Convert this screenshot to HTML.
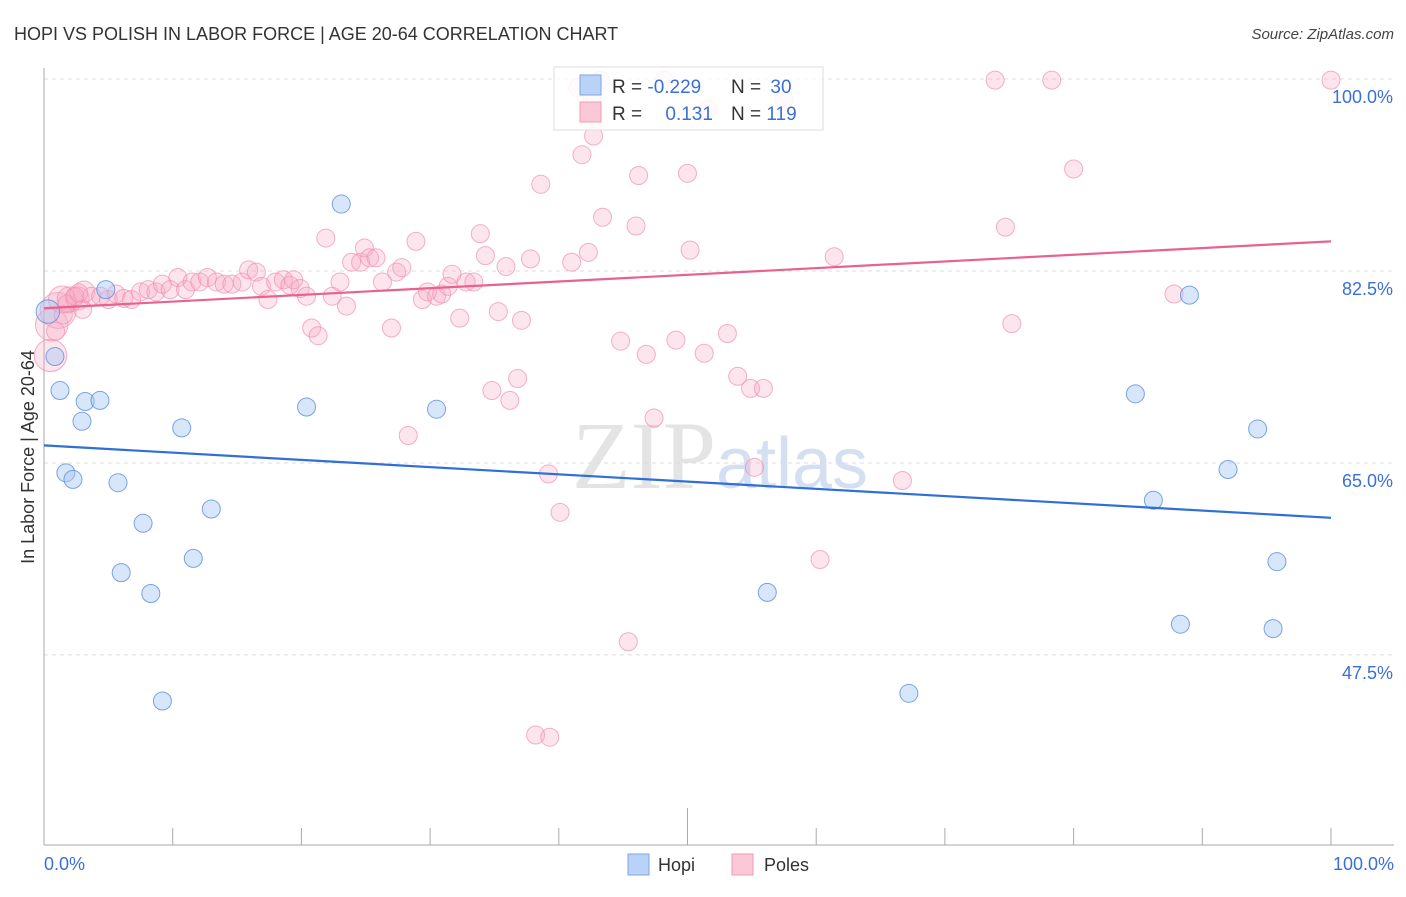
<!DOCTYPE html>
<html><head><meta charset="utf-8"><style>
body{margin:0;background:#fff;width:1406px;height:892px;overflow:hidden;font-family:"Liberation Sans",sans-serif}
</style></head><body>
<svg id="c" width="1406" height="892" xmlns="http://www.w3.org/2000/svg">
<text x="14" y="40" font-size="18" fill="#333">HOPI VS POLISH IN LABOR FORCE | AGE 20-64 CORRELATION CHART</text>
<text x="1394" y="39" font-size="15" fill="#444" font-style="italic" text-anchor="end">Source: ZipAtlas.com</text>
<text x="720" y="488" font-size="96" fill="#e4e4e4" text-anchor="middle" font-family="Liberation Serif,serif">ZIP<tspan fill="#d4e0f2" font-family="Liberation Sans,sans-serif" font-size="72">atlas</tspan></text>
<g id="grid"></g><g id="axes"></g><g id="pts"></g><g id="lines"></g>
<text transform="translate(34,457) rotate(-90)" font-size="18" fill="#333" text-anchor="middle">In Labor Force | Age 20-64</text>
<text x="44" y="870" font-size="18" fill="#3a6fd8">0.0%</text>
<text x="1394" y="870" font-size="18" fill="#3a6fd8" text-anchor="end">100.0%</text>
<g>
<rect x="628" y="854" width="21" height="21" fill="#b8d3f7" stroke="#7ba5e6"/>
<text x="658" y="871" font-size="18" fill="#333">Hopi</text>
<rect x="732" y="854" width="21" height="21" fill="#fbc8d8" stroke="#f09ab5"/>
<text x="764" y="871" font-size="18" fill="#333">Poles</text>
</g>
<g>
<rect x="554" y="67" width="269" height="63" fill="#fff" fill-opacity="0.85" stroke="#ddd"/>
<rect x="580" y="75" width="21" height="20" fill="#b8d3f7" stroke="#7ba5e6"/>
<rect x="580" y="102" width="21" height="20" fill="#fbc8d8" stroke="#f09ab5"/>
<text x="612" y="93" font-size="19" fill="#333">R = <tspan fill="#3a6fd8">-0.229</tspan></text>
<text x="731" y="93" font-size="19" fill="#333">N = <tspan fill="#3a6fd8" dx="4">30</tspan></text>
<text x="612" y="120" font-size="19" fill="#333">R = <tspan fill="#3a6fd8" dx="18">0.131</tspan></text>
<text x="731" y="120" font-size="19" fill="#333">N = <tspan fill="#3a6fd8">119</tspan></text>
</g>
</svg>
<script>
const yTicks=[100,82.5,65,47.5];
const yTickLabels=["100.0%","82.5%","65.0%","47.5%"];
const hopiX=[0.3,0.85,1.24,3.2,4.35,2.95,1.7,2.25,5.75,4.8,7.7,6.0,8.3,10.7,13.0,11.6,9.2,23.1,20.4,30.5,56.2,67.2,84.8,86.2,88.3,89.0,92.0,94.3,95.8,95.5];
const hopiY=[78.8,74.7,71.6,70.6,70.7,68.8,64.1,63.5,63.2,80.8,59.5,55.0,53.1,68.2,60.8,56.3,43.3,88.6,70.1,69.9,53.2,44.0,71.3,61.6,50.3,80.3,64.4,68.1,56.0,49.9];
const polesX=[0.5,0.6,1.1,1.4,2.0,2.6,3.1,3.7,4.4,5.0,5.6,6.2,6.8,7.5,8.1,8.7,9.2,9.8,10.4,11.0,11.5,12.1,12.7,13.4,14.0,14.6,15.4,15.9,16.5,16.9,17.4,18.0,18.6,19.1,19.4,19.9,20.4,20.8,21.3,21.9,22.4,23.0,23.5,23.9,24.6,24.9,25.3,25.8,26.3,27.0,27.4,27.8,28.3,28.9,29.4,29.8,30.5,30.9,31.4,31.7,32.3,32.8,33.4,33.9,34.3,34.8,35.3,35.9,36.2,36.8,37.1,37.8,38.6,39.2,40.1,41.0,41.8,42.3,42.7,43.4,44.8,45.4,46.0,46.2,46.8,47.4,48.2,49.1,50.0,50.2,51.3,51.6,53.1,53.9,54.9,55.2,55.9,60.3,61.4,66.7,73.9,74.7,75.2,78.3,80.0,87.8,100,38.2,39.3,41.5,43.2,42.6,57.5,1.8,2.4,3.0,0.9,1.5,2.7];
const polesY=[74.8,77.6,78.9,79.9,79.9,80.0,80.6,80.2,80.2,79.9,80.4,80.0,79.9,80.6,80.8,80.6,81.3,80.8,81.9,80.8,81.5,81.5,81.9,81.5,81.3,81.3,81.5,82.6,82.4,81.1,79.9,81.5,81.7,81.2,81.7,80.9,80.2,77.3,76.6,85.5,80.2,81.5,79.3,83.3,83.3,84.6,83.7,83.7,81.5,77.3,82.4,82.8,67.5,85.2,79.9,80.6,80.2,80.4,81.1,82.2,78.2,81.5,81.5,85.9,83.9,71.6,78.8,82.9,70.7,72.7,78.0,83.6,90.4,64.0,60.5,83.3,93.1,84.2,94.8,87.4,76.1,48.7,86.6,91.2,74.9,69.1,99.9,76.2,91.4,84.4,75.0,97.2,76.8,72.9,71.8,64.6,71.8,56.2,83.8,63.4,99.9,86.5,77.7,99.9,91.8,80.4,99.9,40.2,40.0,99.2,99.9,98.1,98.1,79.5,80.2,79.0,77.0,78.5,80.5];
const polesSize=[1.8,1.8,2.0,1.5,1.4,1.3,1.2];
const hopiSize=[1.3];
const hopiTrend=[66.6,60.0];
const polesTrend=[79.1,85.2];
const X0=44,X1=1331,Y100=79,PPU=10.97;
const sx=v=>X0+(X1-X0)*v/100;
const sy=v=>Y100+(100-v)*PPU;
const NS="http://www.w3.org/2000/svg";
function mk(tag,attrs,parent){const e=document.createElementNS(NS,tag);for(const k in attrs)e.setAttribute(k,attrs[k]);document.getElementById(parent).appendChild(e);return e;}
yTicks.forEach((t,i)=>{
  const l=mk('line',{x1:44,x2:1394,y1:sy(t),y2:sy(t),stroke:'#ddd','stroke-dasharray':'4,4'},'grid');
  
  
  const tx=mk('text',{x:1393,y:sy(t)+24,'font-size':18,fill:'#3a6fd8','text-anchor':'end'},'grid');
  tx.textContent=yTickLabels[i];
  
  
});
let a=mk('line',{x1:44,x2:44,y1:68,y2:845,stroke:'#aaa'},'axes');


a=mk('line',{x1:44,x2:1394,y1:845,y2:845,stroke:'#aaa'},'axes');


for(let i=1;i<=10;i++){
  const x=sx(i*10);
  const t=mk('line',{x1:x,x2:x,y1:i==5?808:828,y2:845,stroke:'#aaa'},'axes');
  
  
}
polesX.forEach((v,i)=>{
  const c=mk('circle',{cx:sx(v),cy:sy(polesY[i]),r:9*(polesSize[i]||1),fill:'#f7a8c2','fill-opacity':0.3,stroke:'#ef8fb0','stroke-opacity':0.7},'pts');
  
  
});
hopiX.forEach((v,i)=>{
  const c=mk('circle',{cx:sx(v),cy:sy(hopiY[i]),r:9*(hopiSize[i]||1),fill:'#a9c8f3','fill-opacity':0.45,stroke:'#5b8ede','stroke-opacity':0.8},'pts');
  
  
});
let ln=mk('line',{x1:sx(0),x2:sx(100),y1:sy(polesTrend[0]),y2:sy(polesTrend[1]),stroke:'#e8628f','stroke-width':2.2},'lines');


ln=mk('line',{x1:sx(0),x2:sx(100),y1:sy(hopiTrend[0]),y2:sy(hopiTrend[1]),stroke:'#2f6fd6','stroke-width':2.2},'lines');


</script>
</body></html>
